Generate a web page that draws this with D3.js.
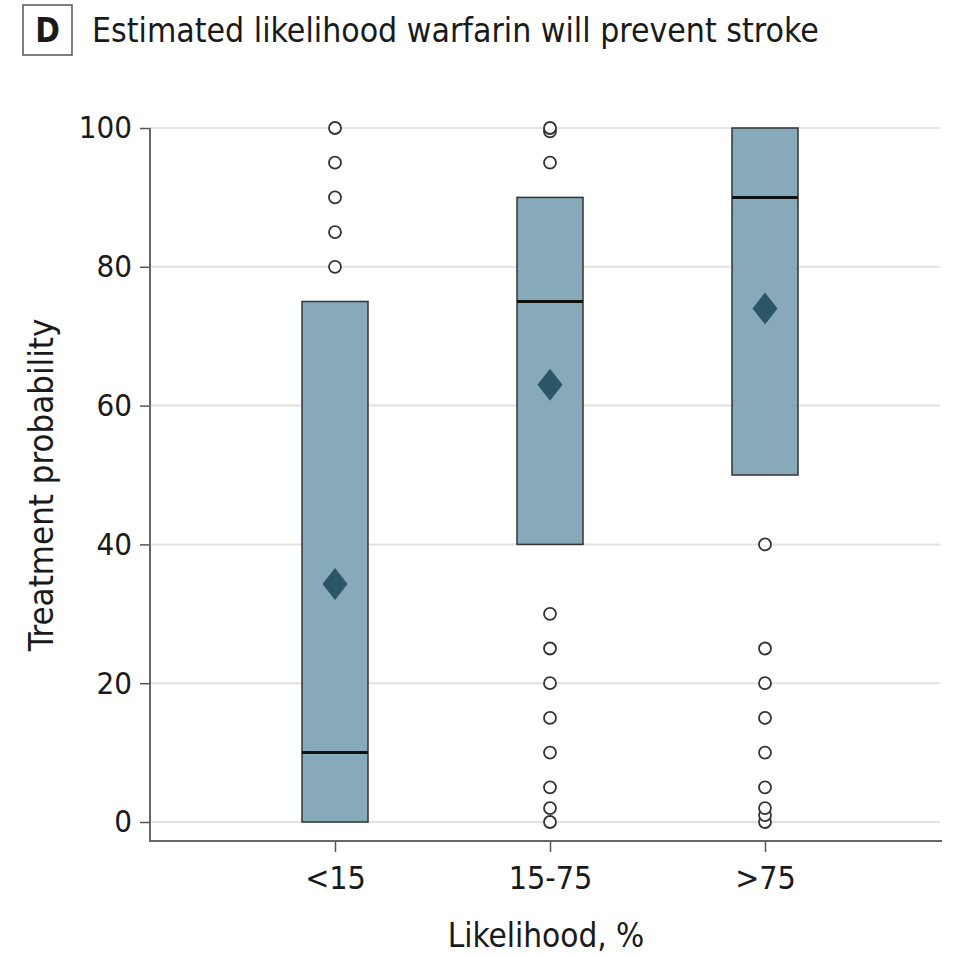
<!DOCTYPE html>
<html>
<head>
<meta charset="utf-8">
<script src="https://cdn.jsdelivr.net/npm/d3@7"></script>
<style>
  body { margin: 0; background: #fff; }
  svg text { font-family: "DejaVu Sans Condensed", "DejaVu Sans", sans-serif; fill: #1a1a1a; }
</style>
</head>
<body>
<svg id="chart"></svg>
<script>
// categories and box summaries
var categories = ["<15", "15-75", ">75"];
var q1s     = [0, 40, 50];
var medians = [10, 75, 90];
var q3s     = [75, 90, 100];
var means   = [34.3, 63, 74];
// outliers, one list per category
var outliers = [
  [80, 85, 90, 95, 100],
  [0, 2, 5, 10, 15, 20, 25, 30, 95, 99.5, 100],
  [0, 1, 2, 5, 10, 15, 20, 25, 40]
];
var yTicks = [0, 20, 40, 60, 80, 100];

var w = 953, h = 957;
var plotL = 150, plotR = 942, plotT = 128, plotB = 841;

var svg = d3.select("#chart").attr("width", w).attr("height", h);

var x = d3.scalePoint().domain(categories).range([335, 765]);
var y = d3.scaleLinear().domain([0, 100]).range([822, plotT]);
var boxW = 66;

// title
svg.append("rect").attr("x", 23).attr("y", 5).attr("width", 49).attr("height", 50)
  .attr("fill", "none").attr("stroke", "#555").attr("stroke-width", 1.5);
svg.append("text").attr("x", 47.5).attr("y", 42).attr("text-anchor", "middle")
  .style("font-size", "33px").style("font-weight", "bold").text("D");
svg.append("text").attr("x", 92).attr("y", 42)
  .style("font-size", "33.5px").text("Estimated likelihood warfarin will prevent stroke");

// gridlines
svg.append("g").selectAll("line").data(yTicks).enter().append("line")
  .attr("x1", plotL).attr("x2", 940)
  .attr("y1", function(d) { return y(d); }).attr("y2", function(d) { return y(d); })
  .attr("stroke", "#e2e2e2").attr("stroke-width", 2);

// axes
var yAxis = svg.append("g").attr("transform", "translate(" + plotL + ",0)")
  .call(d3.axisLeft(y).tickValues(yTicks).tickSize(10).tickPadding(8));
var xAxis = svg.append("g").attr("transform", "translate(0," + plotB + ")")
  .call(d3.axisBottom(x).tickSize(11).tickPadding(14));
[yAxis, xAxis].forEach(function(g) {
  g.select(".domain").remove();
  g.selectAll(".tick line").attr("stroke", "#555").attr("stroke-width", 1.5);
  g.selectAll(".tick text").style("font-size", "32px").attr("fill", "#1a1a1a");
});
yAxis.selectAll(".tick text").style("font-size", "31px");
svg.append("path").attr("d", "M" + plotL + "," + plotT + "V" + plotB + "H" + plotR)
  .attr("fill", "none").attr("stroke", "#666").attr("stroke-width", 2);

// boxes
var boxes = svg.append("g").selectAll("g").data(categories).enter().append("g");
boxes.append("rect")
  .attr("x", function(d) { return x(d) - boxW / 2; })
  .attr("y", function(d, i) { return y(q3s[i]); })
  .attr("width", boxW)
  .attr("height", function(d, i) { return y(q1s[i]) - y(q3s[i]); })
  .attr("fill", "#87aabb").attr("stroke", "#333").attr("stroke-width", 1.5);
boxes.append("line")
  .attr("x1", function(d) { return x(d) - boxW / 2; })
  .attr("x2", function(d) { return x(d) + boxW / 2; })
  .attr("y1", function(d, i) { return y(medians[i]); })
  .attr("y2", function(d, i) { return y(medians[i]); })
  .attr("stroke", "#111").attr("stroke-width", 3);
boxes.append("path")
  .attr("d", function(d, i) {
    var cx = x(d), cy = y(means[i]);
    return "M" + cx + "," + (cy - 16) + "L" + (cx + 12.5) + "," + cy +
      "L" + cx + "," + (cy + 16) + "L" + (cx - 12.5) + "," + cy + "Z";
  })
  .attr("fill", "#2c5567");

// outlier circles
boxes.each(function(d, i) {
  d3.select(this).selectAll("circle").data(outliers[i]).enter().append("circle")
    .attr("cx", x(d)).attr("cy", function(v) { return y(v); })
    .attr("r", 6).attr("fill", "#fff").attr("stroke", "#333").attr("stroke-width", 1.8);
});

// axis titles
svg.append("text").attr("x", 546).attr("y", 947).attr("text-anchor", "middle")
  .style("font-size", "33px").text("Likelihood, %");
svg.append("text").attr("transform", "translate(53,485) rotate(-90)")
  .attr("text-anchor", "middle").style("font-size", "34.5px").text("Treatment probability");
</script>
</body>
</html>
